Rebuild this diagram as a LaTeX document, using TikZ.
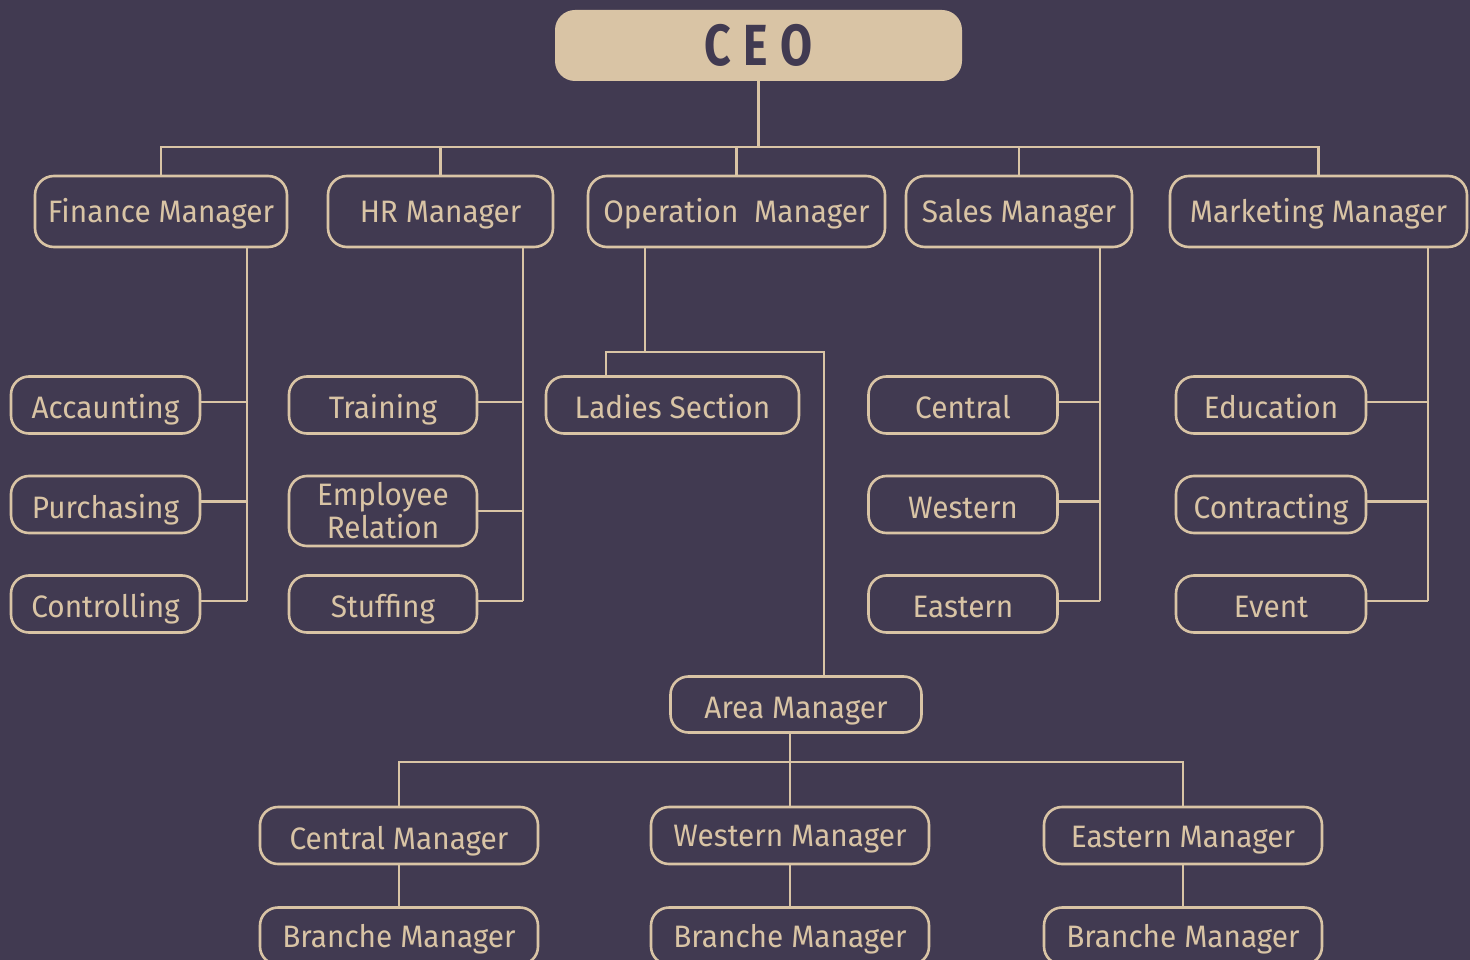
\documentclass[tikz,border=0pt]{standalone}
\usepackage{fontspec}
\setmainfont[FakeStretch=0.96]{Fira Sans}
\newfontfamily\ceofont[FakeStretch=0.8]{Fira Sans}
\definecolor{bg}{HTML}{413A51}
\definecolor{tan}{HTML}{D9C4A5}
\begin{document}
\begin{tikzpicture}[x=1pt,y=-1pt,
  box/.style={draw=tan,line width=2.6pt,rounded corners=19pt,inner sep=0pt,
    text=tan,font=\fontsize{31}{33}\selectfont,align=center},
  mgr/.style={box,text height=23pt,text depth=0pt,minimum height=71pt},
  sub/.style={box,text height=27pt,text depth=0pt,minimum height=57pt,rounded corners=18pt},
  link/.style={draw=tan,line width=2.4pt},
  up/.style={yshift=3pt}]
\fill[bg] (0,0) rectangle (1470,960);
\useasboundingbox (0,0) rectangle (1470,960);

% nodes
\node[fill=tan,rounded corners=20pt,minimum width=407pt,minimum height=71pt,inner sep=0pt,
  text=bg,font=\ceofont\bfseries\fontsize{58}{60}\selectfont,text height=41pt,text depth=0pt]
  (ceo) at (758.5,45.5) {C\hspace{12pt}E\hspace{12pt}O};
\node[mgr,minimum width=252pt] (fin) at (161,211.5) {Finance Manager};
\node[mgr,minimum width=225pt] (hr) at (440.5,211.5) {HR Manager};
\node[mgr,minimum width=297pt] (op) at (736.5,211.5) {Operation\ \ Manager};
\node[mgr,minimum width=226pt] (sal) at (1019,211.5) {Sales Manager};
\node[mgr,minimum width=297pt] (mkt) at (1318.5,211.5) {Marketing Manager};

\node[sub,minimum width=189pt] (acc) at (105.5,405) {Accaunting};
\node[sub,minimum width=189pt] (pur) at (105.5,504.5) {Purchasing};
\node[sub,minimum width=189pt] (ctl) at (105.5,604) {Controlling};

\node[sub,minimum width=188pt] (trn) at (383,405) {Training};
\node[box,minimum width=188pt,minimum height=70pt,rounded corners=18pt] (emp) at (383,511) {Employee\\Relation};
\node[sub,minimum width=188pt] (stf) at (383,604) {Stuffing};

\node[sub,minimum width=253pt] (lad) at (672.5,405) {Ladies Section};

\node[sub,minimum width=189pt] (cen) at (963,405) {Central};
\node[sub,minimum width=189pt] (wes) at (963,504.5) {Western};
\node[sub,minimum width=189pt] (eas) at (963,604) {Eastern};

\node[sub,minimum width=190pt] (edu) at (1271,405) {Education};
\node[sub,minimum width=190pt] (con) at (1271,504.5) {Contracting};
\node[sub,minimum width=190pt] (evt) at (1271,604) {Event};

\node[sub,minimum width=251pt,minimum height=56pt] (area) at (796,704.5) {Area Manager};
\node[sub,minimum width=278pt] (cm) at (399,835.5) {Central Manager};
\node[sub,minimum width=278pt,text height=22pt] (wm) at (790,835.5) {Western Manager};
\node[sub,minimum width=278pt,text height=23pt] (em) at (1183,835.5) {Eastern Manager};
\node[sub,minimum width=278pt,text height=23pt] (b1) at (399,936) {Branche Manager};
\node[sub,minimum width=278pt,text height=23pt] (b2) at (790,936) {Branche Manager};
\node[sub,minimum width=278pt,text height=23pt] (b3) at (1183,936) {Branche Manager};

% top bus
\coordinate (cb) at (758.5,147);
\draw[link] (ceo.south) -- (cb);
\draw[link] (fin.north) -- (fin.north |- cb) -- (mkt.north |- cb) -- (mkt.north);
\draw[link] (hr.north) -- (hr.north |- cb);
\draw[link] (op.north) -- (op.north |- cb);
\draw[link] (sal.north) -- (sal.north |- cb);

% finance
\coordinate (fl) at (247,0);
\draw[link] (fin.south -| fl) -- ([up]ctl.east -| fl);
\foreach \n in {acc,pur,ctl} \draw[link] ([up]\n.east) -- ([up]\n.east -| fl);
% hr
\coordinate (hl) at (523,0);
\draw[link] (hr.south -| hl) -- ([up]stf.east -| hl);
\foreach \n in {trn,stf} \draw[link] ([up]\n.east) -- ([up]\n.east -| hl);
\draw[link] (emp.east) -- (emp.east -| hl);
% sales
\coordinate (sl) at (1100,0);
\draw[link] (sal.south -| sl) -- ([up]eas.east -| sl);
\foreach \n in {cen,wes,eas} \draw[link] ([up]\n.east) -- ([up]\n.east -| sl);
% marketing
\coordinate (ml) at (1428,0);
\draw[link] (mkt.south -| ml) -- ([up]evt.east -| ml);
\foreach \n in {edu,con,evt} \draw[link] ([up]\n.east) -- ([up]\n.east -| ml);

% operation
\coordinate (oj) at (645,352);
\coordinate (ol) at (606,352);
\coordinate (or) at (824,352);
\draw[link] (op.south -| oj) -- (oj);
\draw[link] (lad.north -| ol) -- (ol) -- (or) -- (area.north -| or);

% area
\coordinate (ab) at (790,762);
\draw[link] (area.south -| ab) -- (ab);
\draw[link] (cm.north) -- (cm.north |- ab) -- (em.north |- ab) -- (em.north);
\draw[link] (wm.north) -- (wm.north |- ab);
\draw[link] (cm.south) -- (b1.north);
\draw[link] (wm.south) -- (b2.north);
\draw[link] (em.south) -- (b3.north);
\end{tikzpicture}
\end{document}
